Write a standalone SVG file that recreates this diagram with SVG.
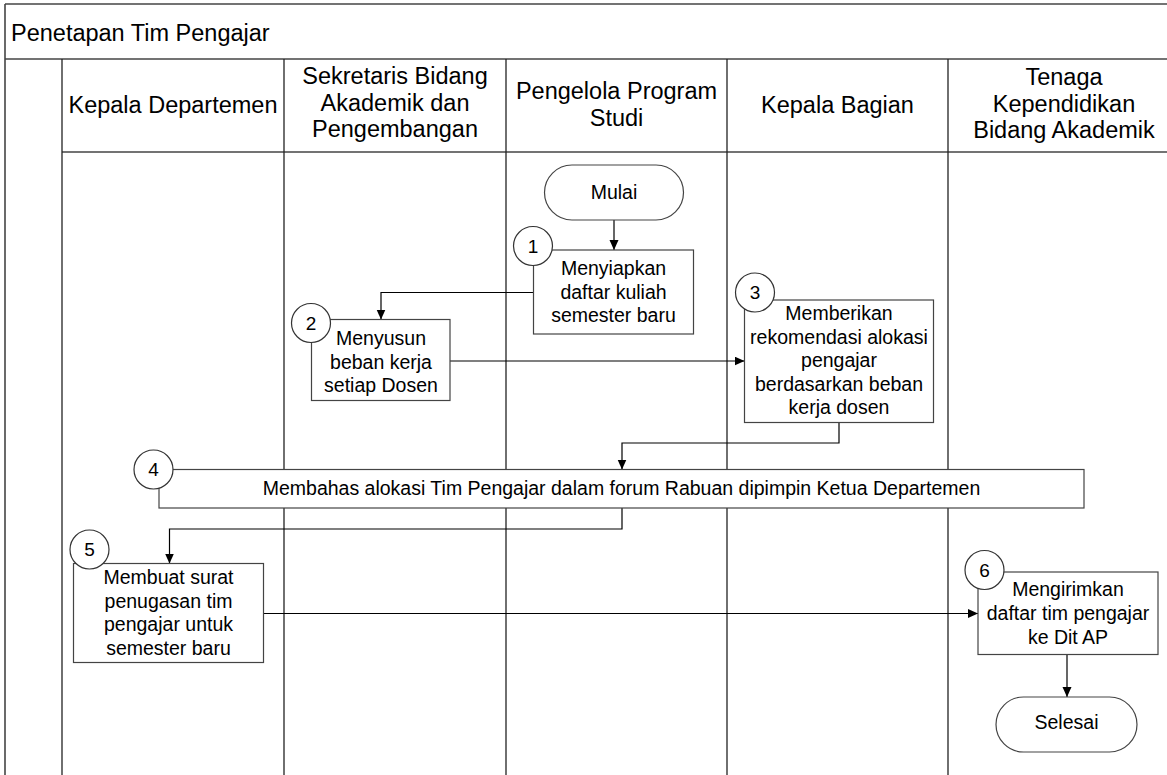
<svg xmlns="http://www.w3.org/2000/svg" width="1167" height="775" viewBox="0 0 1167 775">
<style>
.frame{stroke:#444;stroke-width:1.6;fill:none}
.lane{stroke:#222;stroke-width:1.3;fill:none}
.box{fill:#fff;stroke:#444;stroke-width:1.2}
.num{fill:#fff;stroke:#333;stroke-width:1.2}
.conn{fill:none;stroke:#000;stroke-width:1.2}
text{font-family:"Liberation Sans",Arial,sans-serif;fill:#000}
.hd{font-size:23.5px;text-anchor:middle}
.bd{font-size:19.5px;text-anchor:middle}
.nt{font-size:19px;text-anchor:middle}
</style>
<defs>
<marker id="arr" markerUnits="userSpaceOnUse" markerWidth="11" markerHeight="10" refX="10" refY="4.5" orient="auto">
<path d="M0,0 L10,4.5 L0,9 z" fill="#000"/>
</marker>
</defs>
<rect width="1167" height="775" fill="#fff"/>
<g id="pool">
<line class="frame" x1="5" y1="4" x2="1167" y2="4"/>
<line class="frame" x1="5" y1="4" x2="5" y2="775"/>
<line class="frame" x1="5" y1="59" x2="1167" y2="59"/>
<line class="frame" x1="62" y1="152" x2="1167" y2="152"/>
<text x="11" y="41" font-size="23.5px">Penetapan Tim Pengajar</text>
</g>
<g id="lanes">
<line class="lane" x1="62" y1="59" x2="62" y2="775"/>
<line class="lane" x1="284" y1="59" x2="284" y2="775"/>
<line class="lane" x1="506" y1="59" x2="506" y2="775"/>
<line class="lane" x1="727" y1="59" x2="727" y2="775"/>
<line class="lane" x1="948" y1="59" x2="948" y2="775"/>
<text class="hd" x="173" y="113">Kepala Departemen</text>
<text class="hd" x="395" y="84">Sekretaris Bidang</text>
<text class="hd" x="395" y="110.5">Akademik dan</text>
<text class="hd" x="395" y="137">Pengembangan</text>
<text class="hd" x="616.5" y="99">Pengelola Program</text>
<text class="hd" x="616.5" y="126">Studi</text>
<text class="hd" x="837.5" y="113">Kepala Bagian</text>
<text class="hd" x="1064" y="85">Tenaga</text>
<text class="hd" x="1064" y="111.5">Kependidikan</text>
<text class="hd" x="1064" y="138">Bidang Akademik</text>
</g>
<g id="connectors">
<path class="conn" d="M614,220 L614,250" marker-end="url(#arr)"/>
<path class="conn" d="M533,292.5 L381,292.5 L381,319.5" marker-end="url(#arr)"/>
<path class="conn" d="M450,361 L744.5,361" marker-end="url(#arr)"/>
<path class="conn" d="M839,422.5 L839,443 L622,443 L622,469.5" marker-end="url(#arr)"/>
<path class="conn" d="M622,508 L622,529 L169.5,529 L169.5,563.5" marker-end="url(#arr)"/>
<path class="conn" d="M263.5,613.5 L978,613.5" marker-end="url(#arr)"/>
<path class="conn" d="M1067,654.5 L1067,697" marker-end="url(#arr)"/>
</g>
<g id="mulai">
<rect class="box" x="544.5" y="165" width="139" height="55" rx="27.5"/>
<text class="bd" x="614" y="199">Mulai</text>
</g>
<g id="step1">
<rect class="box" x="533.5" y="250" width="160" height="84"/>
<text class="bd" x="613.5" y="275">Menyiapkan</text>
<text class="bd" x="613.5" y="298.5">daftar kuliah</text>
<text class="bd" x="613.5" y="322">semester baru</text>
<circle class="num" cx="533" cy="246" r="19.5"/>
<text class="nt" x="533" y="252.5">1</text>
</g>
<g id="step2">
<rect class="box" x="311.5" y="319.5" width="138.5" height="81"/>
<text class="bd" x="381" y="345">Menyusun</text>
<text class="bd" x="381" y="368.5">beban kerja</text>
<text class="bd" x="381" y="392">setiap Dosen</text>
<circle class="num" cx="311" cy="323" r="19.5"/>
<text class="nt" x="311" y="329.5">2</text>
</g>
<g id="step3">
<rect class="box" x="744.5" y="300" width="189" height="122.5"/>
<text class="bd" x="839" y="320">Memberikan</text>
<text class="bd" x="839" y="343.5">rekomendasi alokasi</text>
<text class="bd" x="839" y="367">pengajar</text>
<text class="bd" x="839" y="390.5">berdasarkan beban</text>
<text class="bd" x="839" y="414">kerja dosen</text>
<circle class="num" cx="755" cy="292.5" r="19.5"/>
<text class="nt" x="755" y="299">3</text>
</g>
<g id="step4">
<rect class="box" x="159" y="469.5" width="925" height="38.5"/>
<text class="bd" x="621.5" y="495">Membahas alokasi Tim Pengajar dalam forum Rabuan dipimpin Ketua Departemen</text>
<circle class="num" cx="153.5" cy="469.5" r="19.5"/>
<text class="nt" x="153.5" y="476">4</text>
</g>
<g id="step5">
<rect class="box" x="73.5" y="563.5" width="190" height="99"/>
<text class="bd" x="168.5" y="584">Membuat surat</text>
<text class="bd" x="168.5" y="607.5">penugasan tim</text>
<text class="bd" x="168.5" y="631">pengajar untuk</text>
<text class="bd" x="168.5" y="654.5">semester baru</text>
<circle class="num" cx="89.5" cy="549.5" r="19.5"/>
<text class="nt" x="89.5" y="556">5</text>
</g>
<g id="step6">
<rect class="box" x="978" y="572" width="180" height="82.5"/>
<text class="bd" x="1068" y="595.5">Mengirimkan</text>
<text class="bd" x="1068" y="620">daftar tim pengajar</text>
<text class="bd" x="1068" y="644">ke Dit AP</text>
<circle class="num" cx="984.5" cy="570" r="19.5"/>
<text class="nt" x="984.5" y="576.5">6</text>
</g>
<g id="selesai">
<rect class="box" x="996" y="697" width="141" height="55" rx="27.5"/>
<text class="bd" x="1066.5" y="729">Selesai</text>
</g>
</svg>
